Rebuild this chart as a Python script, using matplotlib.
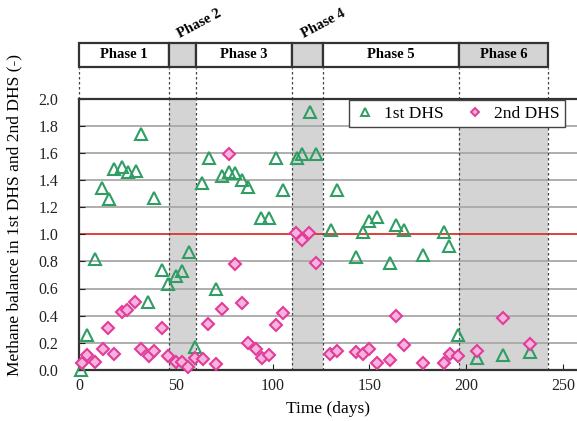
#! /usr/bin/env python3
import matplotlib
matplotlib.use('Agg')
import matplotlib.pyplot as plt
from matplotlib.patches import Rectangle
from matplotlib.lines import Line2D

plt.rcParams['font.family'] = ['Liberation Serif', 'DejaVu Serif']

# phase boundaries (days) and labels
bounds = [0, 46.5, 60.5, 110, 126, 196.6, 242.4]
phase_names = ['Phase 1', 'Phase 2', 'Phase 3', 'Phase 4', 'Phase 5', 'Phase 6']
phase_shaded = [False, True, False, True, False, True]

# 1st DHS (triangles)
day1 = [1, 4.3, 8.3, 12, 15.5, 18.2, 22, 25.2, 29.3, 31.9, 35.8, 38.9, 43, 45.8,
        50, 53, 57, 60, 63.7, 67.2, 70.8, 73.7, 77.5, 80.6, 84.4, 87.5, 94, 98.3,
        101.7, 105.6, 112.5, 115.4, 119.4, 122.3, 130, 133.5, 143.2, 146.9, 150,
        154.2, 160.7, 163.8, 168, 177.9, 188.6, 191.4, 195.7, 205.5, 219.3, 233.1]
bal1 = [0.0, 0.26, 0.82, 1.34, 1.26, 1.48, 1.50, 1.46, 1.47, 1.74, 0.50, 1.27, 0.74, 0.63,
        0.69, 0.73, 0.87, 0.17, 1.38, 1.56, 0.60, 1.43, 1.46, 1.45, 1.40, 1.35, 1.12, 1.12,
        1.56, 1.33, 1.56, 1.59, 1.90, 1.59, 1.03, 1.33, 0.83, 1.02, 1.10,
        1.13, 0.79, 1.07, 1.03, 0.85, 1.02, 0.91, 0.26, 0.09, 0.11, 0.13]

# 2nd DHS (diamonds)
day2 = [1.4, 4.3, 8.3, 12.2, 15.1, 18.1, 22.1, 25, 28.9, 31.9, 36.2, 38.9, 43, 45.8,
        50, 53, 56.5, 60, 63.9, 66.8, 70.8, 73.7, 77.5, 80.6, 84.4, 87.5, 91.5, 94.7,
        98.3, 101.7, 105.6, 112.1, 115.4, 119, 122.3, 129.7, 133.2, 143.2, 146.9, 150,
        154.2, 160.7, 163.8, 168, 177.9, 188.6, 191.7, 195.7, 205.5, 219.3, 233.1]
bal2 = [0.05, 0.11, 0.06, 0.15, 0.31, 0.12, 0.43, 0.44, 0.50, 0.15, 0.10, 0.14, 0.31, 0.10,
        0.06, 0.06, 0.02, 0.09, 0.08, 0.34, 0.04, 0.45, 1.59, 0.78, 0.49, 0.20, 0.15, 0.09,
        0.11, 0.33, 0.42, 1.01, 0.96, 1.01, 0.79, 0.12, 0.14, 0.13, 0.12, 0.15,
        0.05, 0.07, 0.40, 0.18, 0.05, 0.05, 0.12, 0.10, 0.14, 0.38, 0.19]

W, H = 577, 421
fig = plt.figure(figsize=(W / 100, H / 100), dpi=100)
left = 79 / W
ax = fig.add_axes([left, 1 - 369.8 / H, 1 - left, (369.8 - 98.8) / H])
xmax = 498 / 1.935

# shaded phases
for i in range(len(phase_names)):
    if phase_shaded[i]:
        ax.axvspan(bounds[i], bounds[i + 1], color='#d4d4d4', lw=0, zorder=0)

# grid lines
for v in [0.2, 0.4, 0.6, 0.8, 1.2, 1.4, 1.6, 1.8]:
    ax.axhline(v, color='#a8a8a8', lw=1.3, zorder=1)
ax.axhline(1.0, color='#d9342b', lw=1.3, zorder=1)

# phase dividers inside plot
for b in bounds[1:]:
    ax.axvline(b, color='#444444', lw=0.9, ls=(0, (2, 2)), zorder=1.5)

ax.plot(day1, bal1, ls='none', marker='^', ms=8, mfc='none', mec='#2f9e63', mew=1.5,
        clip_on=False, zorder=3, label='1st DHS')
ax.plot(day2, bal2, ls='none', marker='D', ms=6, mfc='#f6b3dc', mec='#e23c9c', mew=1.5,
        clip_on=False, zorder=3, label='2nd DHS')

ax.set_xlim(0, xmax)
ax.set_ylim(0, 2.0)
ax.set_xticks([0, 50, 100, 150, 200, 250])
ax.set_yticks([0.0, 0.2, 0.4, 0.6, 0.8, 1.0, 1.2, 1.4, 1.6, 1.8, 2.0])
ax.set_yticklabels(['%.1f' % t for t in ax.get_yticks()])
ax.tick_params(direction='in', length=4, labelsize=11.5, colors='#222222')
ax.tick_params(axis='x', pad=6)
ax.tick_params(axis='y', pad=15)
for s in ['left', 'bottom', 'top']:
    ax.spines[s].set_linewidth(1.6)
    ax.spines[s].set_color('#333333')
ax.spines['right'].set_visible(False)
ax.set_xlabel('Time (days)', fontsize=12.5)
ax.xaxis.set_label_coords(0.5, -(401 - 369.8) / 271)
ax.set_ylabel('Methane balance in 1st DHS and 2nd DHS (-)', fontsize=12.5)
ax.yaxis.set_label_coords(-(79 - 22) / 498, (369.8 - 215) / 271)

handles = [Line2D([], [], ls='none', marker='^', ms=6, mfc='none', mec='#2f9e63', mew=1.4),
           Line2D([], [], ls='none', marker='D', ms=4.5, mfc='#f6b3dc', mec='#e23c9c', mew=1.4)]
leg = ax.legend(handles, ['1st DHS', '2nd DHS'], loc='upper right', ncol=2,
                bbox_to_anchor=((565 - 79) / 498, 1 - 1.5 / 271), borderaxespad=0,
                fontsize=12.5, fancybox=False, framealpha=1, edgecolor='#444444',
                handletextpad=0.5, columnspacing=1.2, borderpad=0.3, handlelength=1.2)
leg.get_frame().set_linewidth(1.0)

# phase bar on top
bar = fig.add_axes([left, 1 - 67 / H, 1 - left, 24 / H])
bar.set_xlim(0, xmax)
bar.set_ylim(0, 1)
bar.axis('off')
for i, name in enumerate(phase_names):
    x0, x1 = bounds[i], bounds[i + 1]
    bar.add_patch(Rectangle((x0, 0), x1 - x0, 1, facecolor='#d4d4d4' if phase_shaded[i] else 'white',
                            edgecolor='#333333', lw=1.6, clip_on=False))
    if name in ('Phase 2', 'Phase 4'):
        bar.text((x0 + x1) / 2 - 1.5, 1.22, name, rotation=28, rotation_mode='anchor',
                 ha='left', va='baseline', fontsize=10.5, fontweight='bold')
    else:
        bar.text((x0 + x1) / 2, 0.5, name, ha='center', va='center', fontsize=10.5,
                 fontweight='bold')

# dotted connectors between bar and plot
for b in bounds:
    ax.plot([b, b], [1.0, 1 + 31 / 271], transform=ax.get_xaxis_transform(), color='#444444',
            lw=0.9, ls=(0, (2, 2)), clip_on=False)

fig.savefig('out.png', dpi=100)
